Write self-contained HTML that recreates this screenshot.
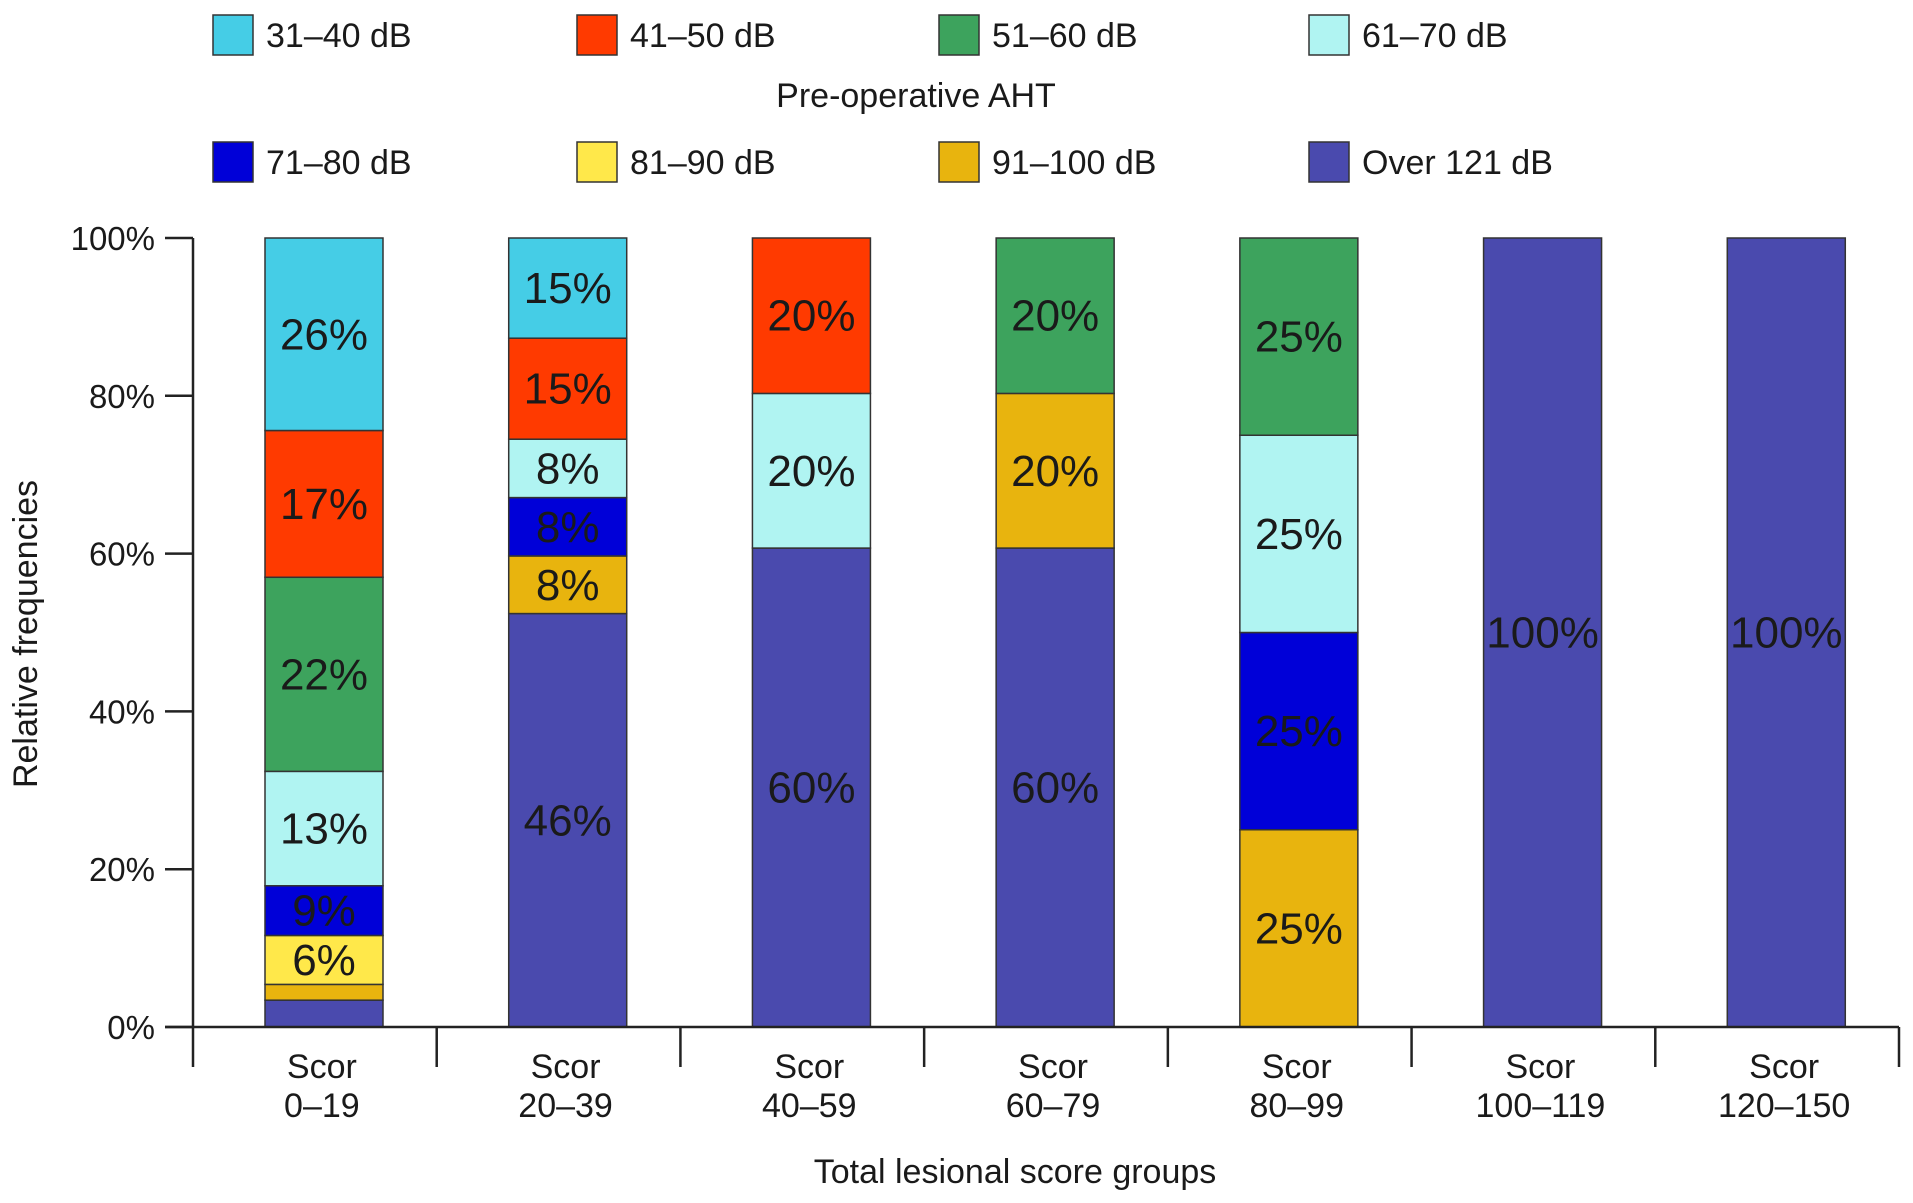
<!DOCTYPE html>
<html><head><meta charset="utf-8">
<style>
html,body{margin:0;padding:0;background:#fff;}
svg{display:block;}
text{fill:#1a1a1a;}
.n{font-family:"Liberation Sans Narrow","Liberation Sans",sans-serif;}
.w{font-family:"Liberation Sans",sans-serif;}
</style></head>
<body>
<svg id="chart" width="1913" height="1203" viewBox="0 0 1913 1203" xmlns="http://www.w3.org/2000/svg"></svg>
<script>
const categories = ["0\u201319","20\u201339","40\u201359","60\u201379","80\u201399","100\u2013119","120\u2013150"];
const seriesNames = ["Over 121 dB","91\u2013100 dB","81\u201390 dB","71\u201380 dB","61\u201370 dB","51\u201360 dB","41\u201350 dB","31\u201340 dB"];
const over121 = [3.4, 52.4, 60.7, 60.7, 0, 100, 100];
const db91_100 = [2.0, 7.3, 0, 19.6, 25, 0, 0];
const db81_90 = [6.2, 0, 0, 0, 0, 0, 0];
const db71_80 = [6.3, 7.4, 0, 0, 25, 0, 0];
const db61_70 = [14.5, 7.4, 19.6, 0, 25, 0, 0];
const db51_60 = [24.6, 0, 0, 19.7, 25, 0, 0];
const db41_50 = [18.6, 12.8, 19.7, 0, 0, 0, 0];
const db31_40 = [24.4, 12.7, 0, 0, 0, 0, 0];
const lblOver = ["", "46%", "60%", "60%", "", "100%", "100%"];
const lbl91 = ["", "8%", "", "20%", "25%", "", ""];
const lbl81 = ["6%", "", "", "", "", "", ""];
const lbl71 = ["9%", "8%", "", "", "25%", "", ""];
const lbl61 = ["13%", "8%", "20%", "", "25%", "", ""];
const lbl51 = ["22%", "", "", "20%", "25%", "", ""];
const lbl41 = ["17%", "15%", "20%", "", "", "", ""];
const lbl31 = ["26%", "15%", "", "", "", "", ""];
const yTicks = [0, 20, 40, 60, 80, 100];
const yTickLabels = ["0%","20%","40%","60%","80%","100%"];

const series = [over121, db91_100, db81_90, db71_80, db61_70, db51_60, db41_50, db31_40];
const labels = [lblOver, lbl91, lbl81, lbl71, lbl61, lbl51, lbl41, lbl31];
const colors = ["#4a4aae","#e8b40e","#ffe84a","#0000d8","#b0f4f2","#3da35d","#ff3a00","#45cde6"];

const svg = document.getElementById('chart');
const NS = "http://www.w3.org/2000/svg";
function mk(tag, attrs, parent){const e=document.createElementNS(NS,tag);for(const k in attrs)e.setAttribute(k,attrs[k]);(parent||svg).appendChild(e);return e;}

const X0 = 193, X1 = 1899, Y0 = 1027, Y1 = 238;
const step = (X1 - X0) / categories.length;
function y(v){return Y0 - (v/100)*(Y0-Y1);}
function xBand(i){return X0 + i*step + 72;}
const barW = 118;

// legend
const legendOrder = [7,6,5,4,3,2,1,0];
const legX = [213, 577, 939, 1309];
legendOrder.forEach((si, k)=>{
  const row = Math.floor(k/4), col = k%4;
  const by = row===0 ? 15 : 142;
  const g = mk('g',{});
  
  
  mk('rect',{x:legX[col],y:by,width:40,height:40,fill:colors[si],stroke:'#333','stroke-width':1.5},g);
  const t = mk('text',{x:legX[col]+53,y:by+32,'font-size':34,class:'n'},g);
  t.textContent = seriesNames[si];
});
const lt = mk('text',{x:916,y:107,'font-size':34,'text-anchor':'middle',class:'n'});


lt.textContent = "Pre-operative AHT";

// bars
categories.forEach((c,i)=>{
  let acc = 0;
  series.forEach((arr,si)=>{
    const v = arr[i];
    if(v<=0) return;
    const r = mk('rect',{x:xBand(i),y:y(acc+v),width:barW,height:y(acc)-y(acc+v),fill:colors[si],stroke:'#333','stroke-width':1.5});
    
    
    const l = labels[si][i];
    if(l){
      const t = mk('text',{x:xBand(i)+barW/2,y:(y(acc)+y(acc+v))/2+15,'font-size':44,'text-anchor':'middle',class:'w'});
      
      
      t.textContent = l;
    }
    acc += v;
  });
});

// axes
const ya = mk('line',{x1:X0,y1:Y1,x2:X0,y2:Y0+40,stroke:'#222','stroke-width':2.5});


const xa = mk('line',{x1:X0-28,y1:Y0,x2:X1,y2:Y0,stroke:'#222','stroke-width':2.5});


yTicks.forEach((v,k)=>{
  mk('line',{x1:X0-28,y1:y(v),x2:X0,y2:y(v),stroke:'#222','stroke-width':2.5});
  const t = mk('text',{x:X0-38,y:y(v)+12,'font-size':33,'text-anchor':'end',class:'w'});
  
  
  t.textContent = yTickLabels[k];
});
for(let i=1;i<=categories.length;i++){
  mk('line',{x1:X0+i*step,y1:Y0,x2:X0+i*step,y2:Y0+40,stroke:'#222','stroke-width':2.5});
}
categories.forEach((c,i)=>{
  const cx = X0 + i*step + step/2 + 7;
  const t1 = mk('text',{x:cx,y:1078,'font-size':34,'text-anchor':'middle',class:'n'});
  
  
  t1.textContent = "Scor";
  const t2 = mk('text',{x:cx,y:1117,'font-size':34,'text-anchor':'middle',class:'n'});
  
  
  t2.textContent = c;
});
const xt = mk('text',{x:1015,y:1183,'font-size':34,'text-anchor':'middle',class:'n'});


xt.textContent = "Total lesional score groups";
const yt = mk('text',{x:0,y:0,'font-size':34,'text-anchor':'middle',class:'n',transform:'translate(37,634) rotate(-90)'});


yt.textContent = "Relative frequencies";
</script>
</body></html>
